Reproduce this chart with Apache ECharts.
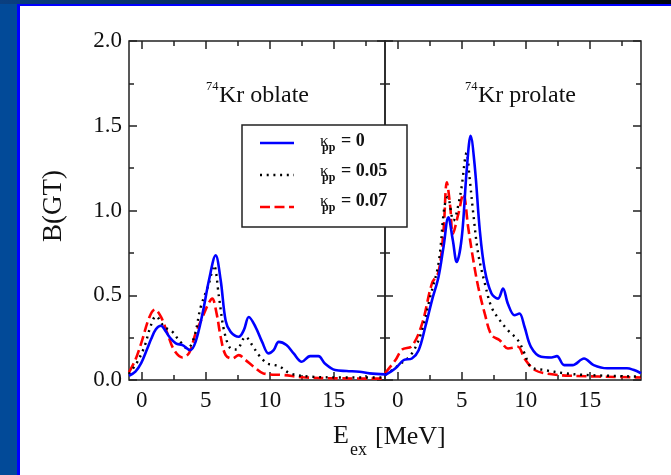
<!DOCTYPE html>
<html>
<head>
<meta charset="utf-8">
<script src="https://cdn.jsdelivr.net/npm/echarts@6/dist/echarts.min.js"></script>
<style>
  html, body { margin: 0; padding: 0; background: #fff; }
  #chart { width: 671px; height: 475px; }
</style>
</head>
<body>
<div id="chart"></div>
<script>
// Gamow-Teller strength distributions B(GT) vs excitation energy, 74Kr
// [E_ex (MeV), B(GT)] pairs for each pairing strength kappa_pp

// oblate shape
const oblateK0 = [
  [-1.0, 0.025], [-0.5, 0.05], [-0.05, 0.10], [0.4, 0.18], [0.72, 0.24], [1.1, 0.30], [1.5, 0.32],
  [1.85, 0.29], [2.15, 0.255], [2.66, 0.216], [3.18, 0.206], [3.78, 0.176],
  [4.2, 0.225], [4.74, 0.39], [5.25, 0.59], [5.77, 0.735], [6.16, 0.59],
  [6.55, 0.35], [6.94, 0.284], [7.58, 0.255], [7.97, 0.294], [8.36, 0.372],
  [8.88, 0.314], [9.4, 0.225], [9.9, 0.157], [10.3, 0.176], [10.7, 0.225],
  [11.3, 0.206], [11.86, 0.157], [12.5, 0.108], [13.15, 0.141], [13.8, 0.141],
  [14.3, 0.098], [15.1, 0.059], [16.0, 0.053], [17.0, 0.049], [17.8, 0.039],
  [19.0, 0.033]
];
const oblateK005 = [
  [-1.0, 0.035], [-0.4, 0.10], [0.2, 0.196], [0.7, 0.32], [1.1, 0.376], [1.76, 0.314],
  [2.4, 0.284], [2.9, 0.235], [3.57, 0.186], [4.1, 0.255], [4.6, 0.43],
  [5.25, 0.57], [5.64, 0.676], [6.03, 0.49], [6.42, 0.294], [6.94, 0.186],
  [7.4, 0.18], [8.1, 0.255], [8.62, 0.206], [9.14, 0.147], [9.8, 0.098],
  [10.3, 0.09], [10.8, 0.078], [11.6, 0.039], [13.15, 0.02], [16.0, 0.015],
  [19.0, 0.015]
];
const oblateK007 = [
  [-1.0, 0.045], [-0.5, 0.12], [-0.05, 0.216], [0.6, 0.372], [1.03, 0.416], [1.5, 0.372],
  [2.0, 0.275], [2.53, 0.176], [3.18, 0.133], [3.7, 0.16], [4.2, 0.275],
  [4.74, 0.37], [5.2, 0.45], [5.5, 0.48], [5.85, 0.39], [6.16, 0.255],
  [6.55, 0.147], [7.07, 0.127], [7.58, 0.147], [8.1, 0.118], [8.75, 0.078],
  [9.5, 0.039], [11.1, 0.029], [12.6, 0.016], [15.0, 0.01], [19.0, 0.008]
];

// prolate shape
const prolateK0 = [
  [-1.0, 0.028], [-0.18, 0.069], [0.47, 0.118], [1.1, 0.127], [1.63, 0.176],
  [2.15, 0.314], [2.67, 0.47], [3.18, 0.608], [3.57, 0.784], [3.95, 0.96],
  [4.3, 0.824], [4.6, 0.696], [5.0, 0.843], [5.38, 1.235], [5.69, 1.44],
  [6.02, 1.255], [6.41, 0.88], [6.8, 0.647], [7.32, 0.51], [7.83, 0.48],
  [8.22, 0.54], [8.6, 0.45], [9.12, 0.382], [9.5, 0.392], [9.9, 0.314],
  [10.4, 0.196], [11.2, 0.137], [12.0, 0.133], [12.43, 0.141], [13.0, 0.088],
  [13.65, 0.088], [14.55, 0.127], [15.3, 0.088], [16.36, 0.069], [17.9, 0.069],
  [18.4, 0.06], [19.0, 0.04]
];
const prolateK005 = [
  [-1.0, 0.03], [0.08, 0.088], [1.1, 0.157], [1.9, 0.294], [2.53, 0.49],
  [3.18, 0.686], [3.64, 1.02], [3.9, 1.08], [4.34, 0.94], [4.9, 1.1],
  [5.38, 1.34], [5.6, 1.2], [5.9, 0.98], [6.28, 0.745], [6.8, 0.57],
  [7.32, 0.43], [7.96, 0.353], [8.6, 0.294], [9.38, 0.235], [9.9, 0.157],
  [10.4, 0.078], [11.45, 0.059], [13.0, 0.04], [14.55, 0.03], [19.0, 0.02]
];
const prolateK007 = [
  [-1.0, 0.04], [-0.18, 0.118], [0.34, 0.18], [1.1, 0.2], [1.9, 0.333],
  [2.67, 0.57], [3.18, 0.637], [3.57, 0.88], [3.83, 1.167], [4.1, 1.02],
  [4.3, 0.863], [4.73, 0.98], [5.12, 1.098], [5.5, 0.9], [5.9, 0.706],
  [6.28, 0.55], [6.8, 0.39], [7.32, 0.265], [7.96, 0.235], [8.6, 0.186],
  [9.38, 0.196], [9.9, 0.127], [10.7, 0.059], [11.9, 0.035], [13.5, 0.025],
  [19.0, 0.015]
];

// axis ticks and labels
const xMajorTicks = [0, 5, 10, 15];
const xMinorTicks = [2.5, 7.5, 12.5, 17.5];
const yMajorTicks = [0, 0.5, 1.0, 1.5, 2.0];
const yMinorTicks = [0.25, 0.75, 1.25, 1.75];
const seriesNames = ['k0', 'k005', 'k007'];
const kappaLabels = ['0', '0.05', '0.07'];
const panelTitles = ['Kr oblate', 'Kr prolate'];
const massNumber = '74';

const FONT = "'Liberation Serif', 'DejaVu Serif', serif";
const AXIS_COLOR = '#222';
const TEXT_COLOR = '#111';

const grids = [
  { left: 129, top: 41, width: 256, height: 339 },
  { left: 385, top: 41, width: 256, height: 339 }
];

function tickAxis(kind, gridIndex, position, ticks, length, label) {
  const isX = kind === 'x';
  return {
    type: 'value', gridIndex, position,
    min: isX ? -1 : 0, max: isX ? 19 : 2,
    axisLine: { show: false, onZero: false },
    splitLine: { show: false },
    axisTick: { inside: true, length, customValues: ticks, lineStyle: { color: AXIS_COLOR, width: 1.5 } },
    axisLabel: label ? Object.assign({ customValues: ticks }, label) : { show: false }
  };
}

const xLabel = { fontFamily: FONT, fontSize: 23, color: TEXT_COLOR, margin: 9 };
const yLabel = { fontFamily: FONT, fontSize: 23, color: TEXT_COLOR, margin: 7, formatter: v => v.toFixed(1) };

// per grid: x axes 0..3 (bottom major/minor, top major/minor), y axes 0..3 (left major/minor, right major/minor)
function xAxesFor(g) {
  return [
    tickAxis('x', g, 'bottom', xMajorTicks, 8, xLabel),
    tickAxis('x', g, 'bottom', xMinorTicks, 5, null),
    tickAxis('x', g, 'top', xMajorTicks, 8, null),
    tickAxis('x', g, 'top', xMinorTicks, 5, null)
  ];
}
function yAxesFor(g) {
  return [
    tickAxis('y', g, 'left', yMajorTicks, 8, g === 0 ? yLabel : null),
    tickAxis('y', g, 'left', yMinorTicks, 5, null),
    tickAxis('y', g, 'right', yMajorTicks, 8, null),
    tickAxis('y', g, 'right', yMinorTicks, 5, null)
  ];
}

const lineStyles = [
  { color: '#0000ff', width: 2.6, type: 'solid' },
  { color: '#000000', width: 2.4, type: [2, 4.7], cap: 'butt' },
  { color: '#ff0000', width: 2.6, type: [10, 4.5], cap: 'butt' }
];

function makeSeries(data, idx, gridIdx) {
  return {
    type: 'line', name: seriesNames[idx],
    xAxisIndex: gridIdx * 4, yAxisIndex: gridIdx * 4,
    data, smooth: 0.35, showSymbol: false, symbol: 'none',
    lineStyle: lineStyles[idx], itemStyle: { color: lineStyles[idx].color },
    animation: false, z: 5 - idx
  };
}

const series = [
  makeSeries(oblateK0, 0, 0), makeSeries(oblateK005, 1, 0), makeSeries(oblateK007, 2, 0),
  makeSeries(prolateK0, 0, 1), makeSeries(prolateK005, 1, 1), makeSeries(prolateK007, 2, 1)
];

// legend drawn as a boxed key: sample line + kappa_pp label per row
const legendGraphics = [
  { type: 'rect', silent: true, z: 10, shape: { x: 242, y: 125, width: 165, height: 102 },
    style: { fill: '#fff', stroke: AXIS_COLOR, lineWidth: 1.5 } }
];
seriesNames.forEach((name, i) => {
  const ly = 143 + i * 32;
  const base = 147 + i * 30;
  const ls = lineStyles[i];
  legendGraphics.push({
    type: 'line', silent: true, z: 11,
    shape: { x1: 260, y1: ly, x2: 294, y2: ly },
    style: { stroke: ls.color, lineWidth: ls.width, lineDash: ls.type === 'solid' ? null : ls.type, lineCap: 'butt' }
  });
  legendGraphics.push({ type: 'text', z: 11, left: 320, top: base - 14,
    style: { text: 'κ', font: '17px ' + FONT, fill: TEXT_COLOR } });
  legendGraphics.push({ type: 'text', z: 11, left: 322, top: base - 5,
    style: { text: 'pp', font: 'bold 12px ' + FONT, fill: TEXT_COLOR } });
  legendGraphics.push({ type: 'text', z: 11, left: 341, top: base - 15,
    style: { text: '= ' + kappaLabels[i], font: 'bold 18px ' + FONT, fill: TEXT_COLOR } });
});

const chart = echarts.init(document.getElementById('chart'), null, { renderer: 'canvas' });

chart.setOption({
  animation: false,
  backgroundColor: '#ffffff',
  grid: grids.map(g => Object.assign({ show: true, borderColor: AXIS_COLOR, borderWidth: 1.5, backgroundColor: 'transparent' }, g)),
  xAxis: xAxesFor(0).concat(xAxesFor(1)),
  yAxis: yAxesFor(0).concat(yAxesFor(1)),
  graphic: [
    // page frame
    { type: 'rect', silent: true, z: -10, shape: { x: 0, y: 0, width: 20, height: 475 }, style: { fill: '#024a98' } },
    { type: 'rect', silent: true, z: -10, shape: { x: 0, y: 0, width: 671, height: 4 },
      style: { fill: new echarts.graphic.LinearGradient(0, 0, 1, 0, [
        { offset: 0, color: '#0a3f80' }, { offset: 1, color: '#00060f' }]) } },
    { type: 'rect', silent: true, z: -9, shape: { x: 17, y: 4, width: 654, height: 2 }, style: { fill: '#0000ff' } },
    { type: 'rect', silent: true, z: -9, shape: { x: 17, y: 4, width: 3, height: 471 }, style: { fill: '#0000ff' } },
    // panel titles
    { type: 'text', z: 20, left: 206, top: 80, style: { text: massNumber, font: '12.5px ' + FONT, fill: TEXT_COLOR } },
    { type: 'text', z: 20, left: 219, top: 84, style: { text: panelTitles[0], font: '24px ' + FONT, fill: TEXT_COLOR } },
    { type: 'text', z: 20, left: 465, top: 80, style: { text: massNumber, font: '12.5px ' + FONT, fill: TEXT_COLOR } },
    { type: 'text', z: 20, left: 478, top: 84, style: { text: panelTitles[1], font: '24px ' + FONT, fill: TEXT_COLOR } },
    // y axis title
    { type: 'text', z: 20, x: 54, y: 206, rotation: Math.PI / 2,
      style: { text: 'B(GT)', font: '27px ' + FONT, fill: TEXT_COLOR, align: 'center', verticalAlign: 'middle' } },
    // x axis title
    { type: 'text', z: 20, left: 333, top: 423, style: { text: 'E', font: '26px ' + FONT, fill: TEXT_COLOR } },
    { type: 'text', z: 20, left: 350, top: 441, style: { text: 'ex', font: '18px ' + FONT, fill: TEXT_COLOR } },
    { type: 'text', z: 20, left: 375, top: 424, style: { text: '[MeV]', font: '26px ' + FONT, fill: TEXT_COLOR } }
  ].concat(legendGraphics),
  series
});
</script>
</body>
</html>
